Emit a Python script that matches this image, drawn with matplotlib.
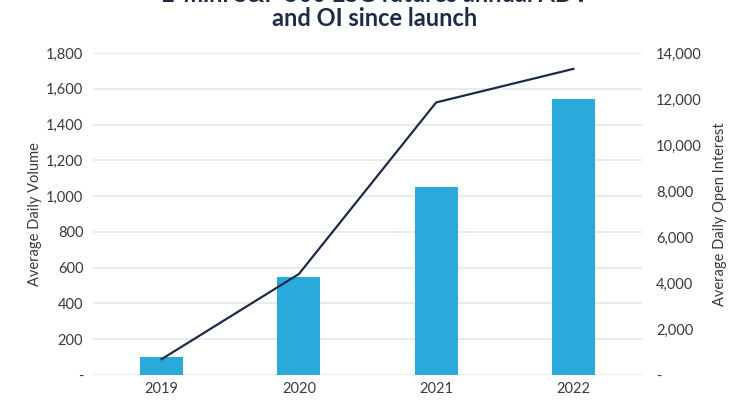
import matplotlib
matplotlib.use("Agg")
import matplotlib.pyplot as plt
from matplotlib.ticker import FuncFormatter, MultipleLocator

years = ["2019", "2020", "2021", "2022"]
adv = [101, 550, 1050, 1542]
oi = [690, 4390, 11850, 13310]

title_line1 = "E-mini S&P 500 ESG futures annual ADV"
title_line2 = "and OI since launch"
left_label = "Average Daily Volume"
right_label = "Average Daily Open Interest"

plt.rcParams['font.family'] = ['Lato', 'DejaVu Sans']
bar_color = "#2AA9DC"
line_color = "#1B2B48"
text_color = "#3a3a3a"

fig = plt.figure(figsize=(7.5, 4), dpi=100)
ax = fig.add_axes([93/750, 1-375/400, (642-93)/750, (375-53)/400])
ax2 = ax.twinx()

x = list(range(len(years)))
ax.bar(x, adv, width=0.315, color=bar_color, zorder=2)
ax2.plot(x, oi, color=line_color, linewidth=1.6, zorder=3)

ax.set_xlim(-0.5, 3.5)
ax.set_ylim(0, 1800)
ax2.set_ylim(0, 14000)
ax.yaxis.set_major_locator(MultipleLocator(200))
ax2.yaxis.set_major_locator(MultipleLocator(2000))

fmt = FuncFormatter(lambda v, p: "-" if v == 0 else f"{int(v):,}")
ax.yaxis.set_major_formatter(fmt)
ax2.yaxis.set_major_formatter(fmt)
ax.set_xticks(x)
ax.set_xticklabels(years)

ax.grid(axis='y', color="#e8e8e8", linewidth=1.2, zorder=0)
ax.set_axisbelow(True)
for a in (ax, ax2):
    for s in a.spines.values():
        s.set_visible(False)
    a.tick_params(length=0, labelsize=10.5, colors=text_color)
ax.tick_params(axis='y', pad=7)
ax2.tick_params(axis='y', pad=10)
ax.tick_params(axis='x', pad=5)

ax.set_ylabel(left_label, fontsize=10.5, color=text_color, labelpad=3)
ax2.set_ylabel(right_label, fontsize=10.5, color=text_color, labelpad=8)

ax2.patch.set_visible(False)

fig.text(0.5, 1 + 5.5/400, title_line1, ha='center', va='center',
         fontsize=17, fontweight='bold', color=line_color)
fig.text(0.5, 1 - 19/400, title_line2, ha='center', va='center',
         fontsize=17, fontweight='bold', color=line_color)

fig.savefig("out.png", dpi=100)
